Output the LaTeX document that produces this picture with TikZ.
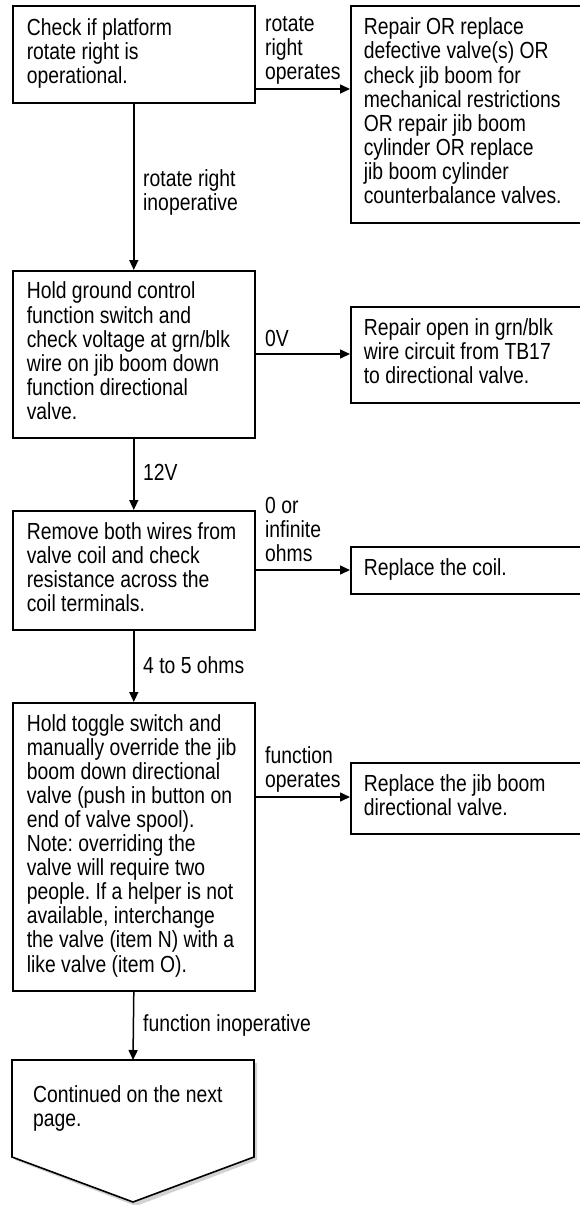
\documentclass[tikz,border=0pt]{standalone}
\usepackage{fontspec}
\setmainfont{Liberation Sans}[FakeStretch=0.83]
\usetikzlibrary{arrows.meta}
\frenchspacing
\newcommand{\boxlines}[1]{\spaceskip=0pt\xspaceskip=0pt\begin{tabular}{@{}l@{}}#1\end{tabular}}
\begin{document}
\begin{tikzpicture}[x=1pt,y=-1pt,
  every node/.style={font=\fontsize{23.3}{24}\selectfont},
  lbox/.style={draw, line width=1.6pt, anchor=north west, align=left, inner xsep=14pt, inner ysep=0pt, text width=214pt, minimum width=242pt},
  rbox/.style={draw, line width=1.6pt, anchor=north west, align=left, inner xsep=13pt, inner ysep=0pt, text width=210pt, minimum width=236pt},
  lbl/.style={anchor=west, align=left, inner sep=0pt},
  conn/.style={line width=1.5pt, -{Triangle[length=10pt,width=9pt]}}
]
\useasboundingbox (0,0) rectangle (579,1205);

% left column
\node[lbox, minimum height=97pt] (b1) at (12,5) {\boxlines{Check if platform\\rotate right is\\operational.}};
\node[lbox, minimum height=167pt] (b3) at (12,270) {\boxlines{Hold ground control\\function switch and\\check voltage at grn/blk\\wire on jib boom down\\function directional\\valve.}};
\node[lbox, minimum height=119pt] (b5) at (12,510) {\boxlines{Remove both wires from\\valve coil and check\\resistance across the\\coil terminals.}};
\node[lbox, minimum height=288pt] (b7) at (12,702) {\boxlines{Hold toggle switch and\\manually override the jib\\boom down directional\\valve (push in button on\\end of valve spool).\\Note: overriding the\\valve will require two\\people. If a helper is not\\available, interchange\\the valve (item N) with a\\like valve (item O).}};

% right column (right edges run off the page, as in the reference)
\node[rbox, minimum height=217pt] (b2) at (350,5) {\boxlines{Repair OR replace\\defective valve(s) OR\\check jib boom for\\mechanical restrictions\\OR repair jib boom\\cylinder OR replace\\jib boom cylinder\\counterbalance valves.}};
\node[rbox, minimum height=96pt] (b4) at (350,306) {\boxlines{Repair open in grn/blk\\wire circuit from TB17\\to directional valve.}};
\node[rbox, minimum height=47pt] (b6) at (350,546) {\boxlines{Replace the coil.}};
\node[rbox, minimum height=71pt] (b8) at (350,762) {\boxlines{Replace the jib boom\\directional valve.}};

% off-page connector
\fill[gray!35] (15,1063) -- (257,1063) -- (257,1160) -- (136,1206) -- (15,1160) -- cycle;
\draw[line width=1.6pt, fill=white] (12,1060) -- (254,1060) -- (254,1157) -- (133,1202) -- (12,1157) -- cycle;
\node[lbl] (p) at (33,1108) {Continued on the next\\page.};
\coordinate (ptop) at (133,1060);

% connector heights
\coordinate (h1) at (0,89);
\coordinate (h2) at (0,354);
\coordinate (h3) at (0,570);
\coordinate (h4) at (0,797);

\draw[conn] (b1.east |- h1) -- (b2.west |- h1);
\draw[conn] (b3.east |- h2) -- (b4.west |- h2);
\draw[conn] (b5.east |- h3) -- (b6.west |- h3);
\draw[conn] (b7.east |- h4) -- (b8.west |- h4);

\draw[conn] (b1.south) -- (b3.north);
\draw[conn] (b3.south) -- (b5.north);
\draw[conn] (b5.south) -- (b7.north);
\draw[conn] (b7.south) -- (ptop);

% labels
\node[lbl] (l1) at (265,50) {rotate\\right\\operates};
\node[lbl] (l2) at (265,338) {0V};
\node[lbl] (l3) at (265,529) {0 or\\infinite\\ohms};
\node[lbl] (l4) at (265,769) {function\\operates};
\node[lbl] (l5) at (143,192) {rotate right\\inoperative};
\node[lbl] (l6) at (143,472) {12V};
\node[lbl] (l7) at (143,665) {4 to 5 ohms};
\node[lbl] (l8) at (143,1025) {function inoperative};
\end{tikzpicture}
\end{document}
